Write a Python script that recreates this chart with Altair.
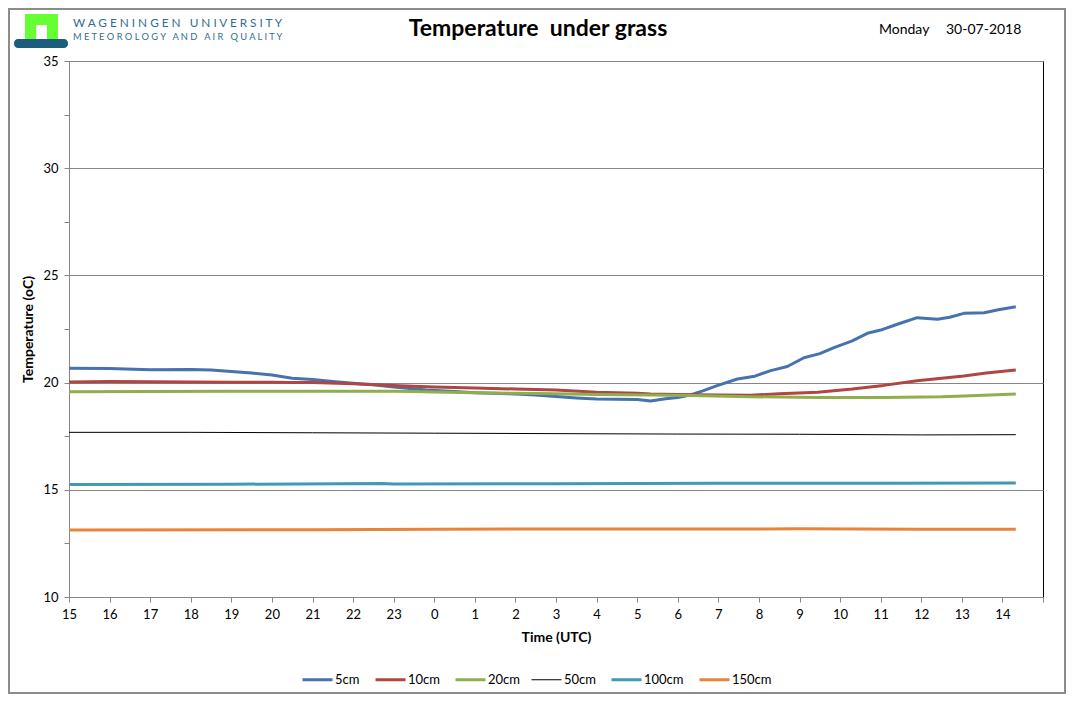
import altair as alt
import pandas as pd

# hours after 15:00 UTC on 29-07, temperatures in degrees C
series = ["5cm", "10cm", "20cm", "50cm", "100cm", "150cm"]
colors = ["#4672B0", "#B04542", "#8FAE4C", "#000000", "#4099B5", "#E8843A"]

h_5 = [0, 1, 2, 3, 3.5, 4, 4.5, 5, 5.5, 6, 6.5, 7, 7.5, 8, 8.8, 9.5, 10, 11, 11.5, 12,
       12.5, 13, 13.5, 14, 14.33, 14.7, 15, 15.31, 15.6, 15.97, 16.47, 16.9, 17.29, 17.7,
       18.11, 18.5, 18.85, 19.3, 19.67, 20.0, 20.41, 20.9, 21.4, 21.7, 22.05, 22.55, 22.9, 23.33]
t_5 = [20.67, 20.66, 20.6, 20.61, 20.59, 20.52, 20.45, 20.35, 20.2, 20.14, 20.05, 19.97, 19.9,
       19.8, 19.66, 19.58, 19.53, 19.47, 19.42, 19.35, 19.28, 19.23, 19.22, 19.21, 19.14, 19.25,
       19.3, 19.42, 19.6, 19.86, 20.17, 20.3, 20.56, 20.75, 21.16, 21.35, 21.63, 21.95, 22.3,
       22.45, 22.72, 23.03, 22.95, 23.05, 23.23, 23.26, 23.4, 23.54]

h_10 = [0, 1, 2, 3, 4, 5, 5.5, 6, 7, 8, 9, 10, 11, 12, 13, 14, 14.33, 15, 16, 16.8, 17.5,
        18.45, 19.3, 20.07, 20.9, 22.05, 22.6, 23.33]
t_10 = [20.03, 20.05, 20.04, 20.03, 20.02, 20.02, 20.01, 20.0, 19.95, 19.87, 19.8, 19.75,
        19.7, 19.65, 19.55, 19.5, 19.47, 19.45, 19.42, 19.41, 19.48, 19.55, 19.7, 19.87,
        20.09, 20.31, 20.45, 20.59]

h_20 = [0, 2, 4, 6, 8, 8.5, 9, 10, 11, 12, 13, 14.33, 15.3, 16.8, 18.45, 20.07, 21.5, 22.05, 23.33]
t_20 = [19.57, 19.58, 19.6, 19.6, 19.6, 19.58, 19.56, 19.53, 19.5, 19.48, 19.45, 19.42,
        19.4, 19.34, 19.31, 19.31, 19.34, 19.38, 19.47]

h_50 = [0, 3, 6, 9, 12, 15, 18, 21, 23.33]
t_50 = [17.68, 17.68, 17.66, 17.64, 17.62, 17.6, 17.59, 17.56, 17.57]

h_100 = [0, 4, 7.7, 8, 12, 16, 20, 23.33]
t_100 = [15.25, 15.26, 15.29, 15.27, 15.28, 15.3, 15.31, 15.32]

h_150 = [0, 6, 9, 12, 15, 18, 21, 23.33]
t_150 = [13.13, 13.14, 13.16, 13.17, 13.17, 13.18, 13.16, 13.16]

hour_ticks = list(range(0, 25))
temp_ticks = [10 + 2.5 * i for i in range(11)]

rows = []
for name, hs, ts in zip(series, [h_5, h_10, h_20, h_50, h_100, h_150],
                        [t_5, t_10, t_20, t_50, t_100, t_150]):
    for h, t in zip(hs, ts):
        rows.append({"series": name, "hour": h, "temp": t})
df = pd.DataFrame(rows)

font = "Lato"
W, H = 974, 536
PL, PT, PR, PB = 61, 53, 23, 97

lines = alt.Chart(df).mark_line(strokeJoin="round").encode(
    x=alt.X("hour:Q", scale=alt.Scale(domain=[0, 24], nice=False),
            axis=alt.Axis(values=hour_ticks, title="Time (UTC)", grid=False, labelFlush=False,
                          labelExpr="datum.value == 24 ? '' : '' + ((datum.value + 15) % 24)",
                          tickSize=5, labelPadding=6, titlePadding=9)),
    y=alt.Y("temp:Q", scale=alt.Scale(domain=[10, 35], nice=False, zero=False),
            axis=alt.Axis(values=temp_ticks, title="Temperature (oC)", labelFlush=False,
                          labelExpr="datum.value % 5 == 0 ? '' + datum.value : ''",
                          gridOpacity={"condition": {"test": "datum.value % 5 != 0", "value": 0},
                                       "value": 1},
                          tickSize=5, labelPadding=6, titlePadding=7)),
    color=alt.Color("series:N", scale=alt.Scale(domain=series, range=colors),
                    legend=alt.Legend(title=None, orient="none", direction="horizontal",
                                      legendX=242, legendY=612, symbolType="stroke",
                                      symbolSize=900, columnPadding=9, labelOffset=11,
                                      symbolStrokeWidth=alt.ExprRef(
                                          "datum.label == '50cm' ? 1 : 3"),
                                      labelFontSize=13, labelFont=font, labelColor="#000000")),
    strokeWidth=alt.condition(alt.datum.series == "50cm", alt.value(1), alt.value(3)),
)

one = pd.DataFrame({"k": [0]})


def label(text, x, y, size, weight="normal", color="#000000", align="left"):
    return alt.Chart(one).mark_text(text=text, font=font, fontSize=size, fontWeight=weight,
                                    color=color, align=align, baseline="middle").encode(
        x=alt.value(x), y=alt.value(y))


def box(x, x2, y, y2, **kw):
    return alt.Chart(one).mark_rect(**kw).encode(
        x=alt.value(x), x2=alt.value(x2), y=alt.value(y), y2=alt.value(y2))


frame = box(-PL + 1, W + PR - 1, -PT + 1, H + PB - 1, fill=None, stroke="#8c8c8c", strokeWidth=2)
logo_green = box(25 - 69, 58 - 69, 14 - 61, 40 - 61, color="#66FF33")
logo_hole = box(36 - 69, 47 - 69, 25 - 61, 40 - 61, color="#ffffff")
logo_wave = box(14 - 69, 68 - 69, 39 - 61, 48 - 61, color="#1C5D7E", cornerRadius=4)

texts = [
    label("W A\u00a0G E N I N G E N\u00a0\u00a0 U N I V E R S I T Y", 73 - 69, 23 - 61, 11.8,
          color="#2F6E8F"),
    label("M E T E O R O L O G Y\u00a0\u00a0 A N D\u00a0\u00a0 A I R\u00a0\u00a0 Q U A L I T Y",
          73 - 69, 37 - 61, 9.3, color="#2F6E8F"),
    label("Temperature\u00a0 under grass", 538 - 69, 29 - 61, 23, weight="bold", align="center"),
    label("Monday", 879 - 69, 30 - 61, 14),
    label("30-07-2018", 946 - 69, 30 - 61, 14),
]

chart = alt.layer(frame, logo_green, logo_hole, logo_wave, lines, *texts).properties(
    width=W, height=H,
    autosize=alt.AutoSizeParams(type="none"),
    padding={"left": PL, "top": PT, "right": PR, "bottom": PB},
).configure_view(
    stroke="#000000", strokeWidth=1
).configure_axis(
    domainColor="#868686", tickColor="#868686", gridColor="#868686",
    labelFont=font, labelFontSize=13, labelColor="#000000",
    titleFont=font, titleFontSize=14, titleFontWeight="bold", titleColor="#000000",
)

chart.save("out.html", embed_options={"renderer": "svg", "actions": False})
